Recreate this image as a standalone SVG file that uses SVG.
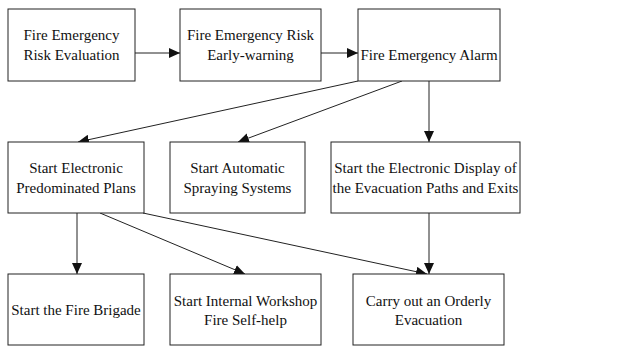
<svg xmlns="http://www.w3.org/2000/svg" width="624" height="347" viewBox="0 0 624 347">
<style>
.box{fill:#fff;stroke:#222;stroke-width:1}
.t{font-family:'Liberation Serif','Times New Roman','DejaVu Serif',serif;font-size:15px;fill:#111;text-anchor:middle}
.c{stroke:#222;stroke-width:1;fill:none;marker-end:url(#ah)}
</style>
<defs>
<marker id="ah" viewBox="0 0 11 10" refX="11" refY="5" markerWidth="11" markerHeight="10" markerUnits="userSpaceOnUse" orient="auto">
<path d="M0,0 L11,5 L0,10 z" fill="#111"/>
</marker>
</defs>
<rect width="624" height="347" fill="#fff"/>
<g id="connectors">
<line class="c" x1="135" y1="53" x2="180" y2="53"/>
<line class="c" x1="321" y1="53" x2="358" y2="53"/>
<line class="c" x1="358" y1="81" x2="78" y2="142"/>
<line class="c" x1="402" y1="81" x2="238" y2="142"/>
<line class="c" x1="429" y1="81" x2="429" y2="142"/>
<line class="c" x1="77" y1="213" x2="77" y2="274"/>
<line class="c" x1="100" y1="213" x2="245" y2="274"/>
<line class="c" x1="143" y1="213" x2="427" y2="274"/>
<line class="c" x1="429" y1="213" x2="429" y2="274"/>
</g>
<g id="n1"><rect class="box" x="8" y="9" width="127" height="72"/><text class="t" font-family="Liberation Serif" x="71.5" y="40">Fire Emergency</text><text class="t" x="71.5" y="60">Risk Evaluation</text></g>
<g id="n2"><rect class="box" x="180" y="9" width="141" height="72"/><text class="t" x="250.5" y="40">Fire Emergency Risk</text><text class="t" x="250.5" y="60">Early-warning</text></g>
<g id="n3"><rect class="box" x="358" y="9" width="142" height="72"/><text class="t" x="429" y="60">Fire Emergency Alarm</text></g>
<g id="n4"><rect class="box" x="8" y="142" width="136" height="71"/><text class="t" x="76" y="173">Start Electronic</text><text class="t" x="76" y="193">Predominated Plans</text></g>
<g id="n5"><rect class="box" x="170" y="142" width="135" height="71"/><text class="t" x="237.5" y="173">Start Automatic</text><text class="t" x="237.5" y="193">Spraying Systems</text></g>
<g id="n6"><rect class="box" x="331" y="142" width="189" height="71"/><text class="t" x="425.5" y="173">Start the Electronic Display of</text><text class="t" x="425.5" y="193">the Evacuation Paths and Exits</text></g>
<g id="n7"><rect class="box" x="8" y="274" width="136" height="71"/><text class="t" x="76" y="315">Start the Fire Brigade</text></g>
<g id="n8"><rect class="box" x="170" y="274" width="151" height="71"/><text class="t" x="245.5" y="306">Start Internal Workshop</text><text class="t" x="245.5" y="325">Fire Self-help</text></g>
<g id="n9"><rect class="box" x="353" y="274" width="151" height="71"/><text class="t" x="428.5" y="306">Carry out an Orderly</text><text class="t" x="428.5" y="325">Evacuation</text></g>
</svg>
